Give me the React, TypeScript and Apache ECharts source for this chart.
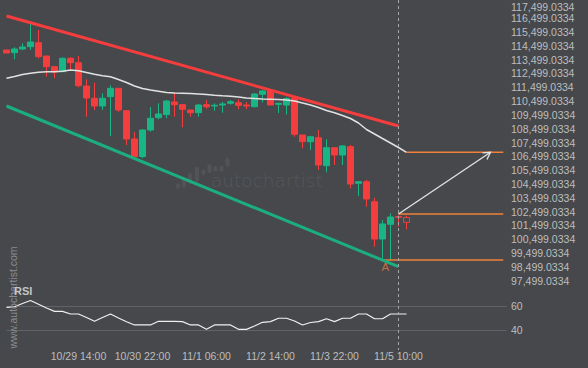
import React, { useEffect, useRef } from 'react';
import * as echarts from 'echarts';

// ---- data ----
const priceTicks = [
  97499.0334, 98499.0334, 99499.0334, 100499.0334, 101499.0334, 102499.0334, 103499.0334,
  104499.0334, 105499.0334, 106499.0334, 107499.0334, 108499.0334, 109499.0334, 110499.0334,
  111499.0334, 112499.0334, 113499.0334, 114499.0334, 115499.0334, 116499.0334, 117499.0334,
];
const xTickIndex = [9, 17, 25, 33, 41, 49];
const xTickLabels = ['10/29 14:00', '10/30 22:00', '11/1 06:00', '11/2 14:00', '11/3 22:00', '11/5 10:00'];
const rsiTicks = [40, 60];

const opens = [
  114192, 113997, 114265, 114431, 114720, 113758, 112984, 112622, 113592, 113273,
  111587, 110697, 110140, 110813, 111421, 109800, 107752, 106486, 108403, 109293,
  109525, 110429, 110234, 109851, 109655, 110234, 110140, 110212, 110335, 110379,
  110212, 110089, 110987, 111262, 110263, 110212, 110719, 108042, 107557, 107846,
  105820, 107123, 106594, 107195, 104547, 104662, 103215, 100516, 101580, 102144,
  102072,
];
const closes = [
  113975, 114265, 114409, 114771, 113707, 112984, 112600, 113592, 113273, 111609,
  110719, 110140, 110697, 111421, 109851, 107752, 106471, 108403, 109250, 109561,
  110502, 110234, 109901, 109655, 110212, 110089, 110191, 110285, 110451, 110191,
  110140, 111008, 111225, 110212, 110335, 110683, 108092, 107557, 107919, 105871,
  107123, 106594, 107246, 104496, 104662, 103411, 100516, 101602, 102108, 102086,
  101725,
];
const lows = [
  113975, 113519, 114192, 114192, 113592, 112260, 112144, 112622, 112796, 111493,
  109366, 109851, 109851, 107969, 109728, 107318, 106399, 106356, 108280, 109178,
  109250, 109366, 108599, 109366, 109366, 109945, 109800, 109655, 110234, 109901,
  109901, 110046, 110408, 110212, 109633, 109525, 107919, 107079, 106956, 105509,
  105343, 105871, 105871, 104185, 103628, 102853, 99959, 98990, 98990, 101421,
  101218,
];
const highs = [
  114192, 114388, 114677, 116074, 115639, 113758, 112984, 113664, 113664, 113758,
  112072, 111826, 111059, 111638, 111421, 109800, 108259, 108454, 110068, 110335,
  110574, 111102, 110234, 109851, 110285, 110574, 110335, 110429, 110574, 110625,
  110429, 111059, 111298, 111348, 110379, 110791, 110770, 108042, 107919, 108403,
  107730, 107123, 107318, 107318, 104713, 104785, 103505, 101891, 102376, 102217,
  102202,
];
const movingAverage = [
  112144, 112275, 112419, 112513, 112586, 112622, 112622, 112658, 112745, 112687,
  112564, 112434, 112332, 112253, 112058, 111840, 111587, 111406, 111298, 111211,
  111117, 111081, 111059, 111037, 111008, 110972, 110921, 110878, 110842, 110791,
  110719, 110675, 110647, 110632, 110610, 110574, 110502, 110357, 110212, 110031,
  109814, 109655, 109453, 109235, 108910, 108440, 108114, 107788, 107463, 107137,
  106790,
];
const rsiValues = [
  58.9, 59.4, 62.1, 64.5, 61.4, 58.3, 55.6, 55.6, 53.4, 53.4,
  50.5, 47.4, 50.5, 53.4, 50.1, 47.0, 44.4, 44.4, 44.4, 47.4,
  47.4, 47.4, 47.1, 44.4, 44.4, 40.8, 44.4, 44.4, 44.4, 40.8,
  40.8, 43.5, 46.6, 47.1, 49.9, 49.9, 47.7, 44.4, 46.4, 47.1,
  49.5, 47.1, 49.9, 49.9, 53.4, 53.4, 49.5, 49.5, 53.4, 53.4,
  53.4,
];
const upperTrend = [[0, 116652], [49, 108693]];
const lowerTrend = [[0, 110140], [49, 98512]];
const levelStart = [50, 49, 46.9];
const levelPrice = [106790, 102325, 98990];
const levelEnd = 62.1;
const forecastArrow = [49, 102325, 60.5, 106790];
const patternLabels = ['A'];
const patternPoints = [[47.35, 98490]];
const currentIndex = 49;

// ---- styles ----
const BG = '#46484b';
const RED = '#f53d3d';
const GREEN = '#19b585';
const ORANGE = '#f0803a';
const LABEL = '#bdbebf';
const FONT = '"Liberation Sans", Arial, sans-serif';

function fmtPrice(v: number) {
  const s = v.toFixed(4);
  const [i, d] = s.split('.');
  return i.replace(/\B(?=(\d{3})+(?!\d))/g, ',') + '.' + d;
}

export default function App() {
  const ref = useRef<HTMLDivElement>(null);
  useEffect(() => {
    if (!ref.current) return;
    const chart = echarts.init(ref.current, undefined, { renderer: 'svg' });
    const xMax = 62.5;
    const axisTicks = priceTicks.slice(0, -1);
    const topTick = priceTicks[priceTicks.length - 1];
    const candleData = opens.map((o, i) => {
      const v = [i, o, closes[i], lows[i], highs[i]];
      if (i === opens.length - 1) {
        return { value: v, itemStyle: { color0: BG, borderColor0: RED, color: BG, borderColor: RED } };
      }
      return v;
    });
    const levelSeries = levelPrice.map((p, k) => ({
      type: 'line',
      xAxisIndex: 0,
      yAxisIndex: 0,
      data: [[levelStart[k], p], [levelEnd, p]],
      symbol: 'none',
      silent: true,
      lineStyle: { color: ORANGE, width: 1.5 },
      z: 3,
    }));
    const option: any = {
      animation: false,
      backgroundColor: BG,
      grid: [
        { left: 6.5, right: 81.5, top: 0, height: 285, outerBoundsMode: 'none' },
        { left: 6.5, right: 81.5, top: 293.85, height: 48.6, outerBoundsMode: 'none' },
      ],
      xAxis: [
        { type: 'value', gridIndex: 0, min: 0, max: xMax, show: false },
        {
          type: 'value', gridIndex: 1, min: 0, max: xMax,
          axisLine: { show: false }, axisTick: { show: false }, splitLine: { show: false },
          axisLabel: {
            customValues: xTickIndex,
            formatter: (v: number) => {
              const k = xTickIndex.indexOf(Math.round(v));
              return k >= 0 ? xTickLabels[k] : '';
            },
            color: LABEL, fontSize: 10.5, fontFamily: FONT, margin: 8,
          },
        },
      ],
      yAxis: [
        {
          type: 'value', gridIndex: 0, position: 'right', min: 97187.89, max: 117810.17, scale: true,
          axisLine: { show: false }, axisTick: { show: false }, splitLine: { show: false },
          axisLabel: {
            customValues: axisTicks,
            formatter: (v: number) => fmtPrice(v),
            color: LABEL, fontSize: 10.5, fontFamily: FONT, margin: 4.5,
          },
        },
        {
          type: 'value', gridIndex: 1, position: 'right', min: 30, max: 70,
          axisLine: { show: false }, axisTick: { show: false }, splitLine: { show: false },
          axisLabel: {
            customValues: rsiTicks,
            formatter: (v: number) => String(v),
            color: LABEL, fontSize: 10.5, fontFamily: FONT, margin: 4.5,
          },
        },
      ],
      series: [
        {
          type: 'candlestick',
          xAxisIndex: 0,
          yAxisIndex: 0,
          data: candleData,
          barWidth: 6,
          clip: true,
          itemStyle: { color: GREEN, color0: RED, borderColor: GREEN, borderColor0: RED, borderWidth: 1 },
          z: 2,
        },
        {
          type: 'line', xAxisIndex: 0, yAxisIndex: 0,
          data: movingAverage.map((v, i) => [i, v]),
          symbol: 'none', silent: true,
          lineStyle: { color: '#e2e2e2', width: 1.5 },
          z: 3,
        },
        {
          type: 'line', xAxisIndex: 0, yAxisIndex: 0, data: upperTrend,
          symbol: 'none', silent: true, lineStyle: { color: RED, width: 3 }, z: 4,
        },
        {
          type: 'line', xAxisIndex: 0, yAxisIndex: 0, data: lowerTrend,
          symbol: 'none', silent: true, lineStyle: { color: '#1cae7f', width: 3 }, z: 4,
        },
        ...levelSeries,
        {
          type: 'custom', xAxisIndex: 0, yAxisIndex: 0,
          data: [forecastArrow],
          encode: { x: [0, 2], y: [1, 3] },
          silent: true,
          z: 5,
          renderItem: (params: any, api: any) => {
            const p0 = api.coord([api.value(0), api.value(1)]);
            const p1 = api.coord([api.value(2), api.value(3)]);
            const dx = p1[0] - p0[0];
            const dy = p1[1] - p0[1];
            const len = Math.hypot(dx, dy) || 1;
            const bx = -dx / len;
            const by = -dy / len;
            const L = 8;
            const rot = (a: number) => [
              p1[0] + L * (bx * Math.cos(a) - by * Math.sin(a)),
              p1[1] + L * (bx * Math.sin(a) + by * Math.cos(a)),
            ];
            const h1 = rot(Math.PI / 6);
            const h2 = rot(-Math.PI / 6);
            return {
              type: 'group',
              children: [
                { type: 'line', shape: { x1: p0[0], y1: p0[1], x2: p1[0], y2: p1[1] }, style: { stroke: '#e4e4e4', lineWidth: 1.3 } },
                { type: 'polyline', shape: { points: [h1, p1, h2] }, style: { stroke: '#e4e4e4', lineWidth: 1.3, fill: null } },
              ],
            };
          },
        },
        {
          type: 'scatter', xAxisIndex: 0, yAxisIndex: 0,
          data: patternPoints,
          symbolSize: 1,
          silent: true,
          itemStyle: { color: 'rgba(0,0,0,0)' },
          label: {
            show: true, position: 'inside',
            formatter: (p: any) => patternLabels[p.dataIndex],
            color: '#e07a3c', fontSize: 11.5, fontFamily: FONT,
          },
          z: 5,
        },
        {
          type: 'line', xAxisIndex: 1, yAxisIndex: 1,
          data: rsiValues.map((v, i) => [i, v]),
          symbol: 'none', silent: true,
          lineStyle: { color: '#f0f0f0', width: 1.2 },
          markLine: {
            silent: true, symbol: 'none', label: { show: false },
            lineStyle: { color: '#606367', width: 1, type: 'solid' },
            data: rsiTicks.map((v) => ({ yAxis: v })),
            z: 1,
          },
          z: 3,
        },
      ],
    };
    chart.setOption(option);

    const xPix = chart.convertToPixel({ xAxisIndex: 0 }, currentIndex) as number;
    const xRight = chart.convertToPixel({ xAxisIndex: 0 }, xMax) as number;
    const yTop = chart.convertToPixel({ yAxisIndex: 0 }, topTick) as number;
    const wmBars = [
      [178, 183, 189], [184, 178, 188], [190, 172.7, 184], [197, 166.7, 182], [203.5, 169.3, 175],
      [209.5, 164.3, 173.3], [215.5, 166, 171.7], [221.5, 165.7, 171.7], [227.5, 157.7, 166.7],
    ];
    chart.setOption({
      graphic: [
        ...wmBars.map((b) => ({
          type: 'rect', silent: true, z: 0,
          shape: { x: b[0] - 2, y: b[1], width: 4, height: b[2] - b[1], r: 2 },
          style: { fill: '#515357' },
        })),
        {
          type: 'text', silent: true, z: 0, x: 211, y: 189.5,
          style: {
            text: 'autochartist', fill: '#55575b', fontSize: 18.5,
            fontFamily: '"DejaVu Sans", sans-serif', fontWeight: 300,
            textAlign: 'left', textVerticalAlign: 'bottom',
          },
        },
        {
          type: 'text', silent: true, z: 10, x: xRight + 4.5, y: Math.max(yTop, 6.8),
          style: {
            text: fmtPrice(topTick), fill: LABEL, fontSize: 10.5, fontFamily: FONT,
            textAlign: 'left', textVerticalAlign: 'middle',
          },
        },
        {
          type: 'line', silent: true, z: 10,
          shape: { x1: xPix, y1: 0, x2: xPix, y2: 350 },
          style: { stroke: '#a5a7a9', lineWidth: 1, lineDash: [3, 3] },
        },
        {
          type: 'text', silent: true, z: 10, x: 13, y: 297.5, rotation: Math.PI / 2,
          style: {
            text: 'www.autochartist.com', fill: '#8a8c8f', fontSize: 10.5, fontFamily: FONT,
            textAlign: 'center', textVerticalAlign: 'middle',
          },
        },
        {
          type: 'text', silent: true, z: 11, x: 14, y: 291,
          style: {
            text: 'RSI', fill: '#c4c5c6', fontSize: 11, fontWeight: 'bold', fontFamily: FONT,
            textAlign: 'left', textVerticalAlign: 'middle',
          },
        },
      ],
    });
    return () => chart.dispose();
  }, []);
  return (
    <div
      ref={ref}
      style={{ position: 'fixed', left: 0, top: 0, width: 588, height: 368, background: BG }}
    />
  );
}
